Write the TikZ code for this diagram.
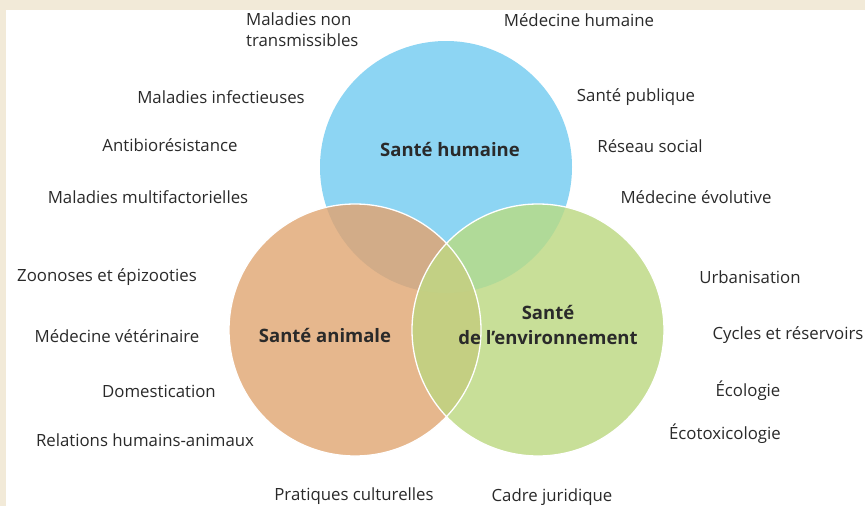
\documentclass[tikz,border=0pt]{standalone}
\usepackage{fontspec}
\setmainfont{Open Sans}
\definecolor{frame}{HTML}{F2EAD8}
\definecolor{cblue}{HTML}{8DD5F3}
\definecolor{corange}{HTML}{E6B78D}
\definecolor{cgreen}{HTML}{C8DF98}
\definecolor{cbo}{HTML}{D2AC88}
\definecolor{cbg}{HTML}{B0DA98}
\definecolor{cog}{HTML}{C4CF82}
\definecolor{cbog}{HTML}{C2D084}
\definecolor{ink}{HTML}{2A2A2A}
\tikzset{
  lbl/.style={text=ink, inner sep=0pt, font=\fontsize{16.8}{21}\selectfont},
  head/.style={text=ink, inner sep=0pt, align=center, font=\bfseries\fontsize{18.5}{25}\selectfont},
  rim/.style={draw=white, line width=1.3pt}
}
\begin{document}
\begin{tikzpicture}[x=1pt,y=-1pt]
\useasboundingbox (0,0) rectangle (865,506);
\fill[frame] (0,0) rectangle (865,506);
\fill[white] (6,10) rectangle (865,506);
\coordinate (B) at (446,167);
\coordinate (O) at (355,330);
\coordinate (G) at (538,330);
\def\R{126}
\fill[cblue] (B) circle (\R);
\fill[corange] (O) circle (\R);
\fill[cgreen] (G) circle (\R);
\begin{scope}\clip (B) circle (\R); \fill[cbo] (O) circle (\R);\end{scope}
\begin{scope}\clip (B) circle (\R); \fill[cbg] (G) circle (\R);\end{scope}
\begin{scope}\clip (O) circle (\R); \fill[cog] (G) circle (\R);\end{scope}
\begin{scope}\clip (O) circle (\R); \clip (B) circle (\R); \fill[cbog] (G) circle (\R);\end{scope}
\draw[rim] (O) circle (\R);
\draw[rim] (G) circle (\R);
% headings
\node[head] (hh) at (450,150) {Santé humaine};
\node[head] (ha) at (325,336) {Santé animale};
\node[head] (he) at (548,325) {Santé\\de l’environnement};
% labels
\node[lbl, anchor=west, align=left] (l1) at (246,30) {Maladies non\\transmissibles};
\node[lbl] (l2) at (579,20) {Médecine humaine};
\node[lbl] (l3) at (221,97) {Maladies infectieuses};
\node[lbl] (l4) at (636,97) {Santé publique};
\node[lbl] (l5) at (170,145) {Antibiorésistance};
\node[lbl] (l6) at (650,146) {Réseau social};
\node[lbl] (l7) at (148,197) {Maladies multifactorielles};
\node[lbl] (l8) at (696,197) {Médecine évolutive};
\node[lbl] (l9) at (107,277) {Zoonoses et épizooties};
\node[lbl] (l10) at (750,277) {Urbanisation};
\node[lbl] (l11) at (117,336) {Médecine vétérinaire};
\node[lbl] (l12) at (788,335) {Cycles et réservoirs};
\node[lbl] (l13) at (159,391) {Domestication};
\node[lbl] (l14) at (748,391) {Écologie};
\node[lbl] (l15) at (145,440) {Relations humains-animaux};
\node[lbl] (l16) at (725,434) {Écotoxicologie};
\node[lbl] (l17) at (354,496) {Pratiques culturelles};
\node[lbl] (l18) at (552,497) {Cadre juridique};
\end{tikzpicture}
\end{document}
